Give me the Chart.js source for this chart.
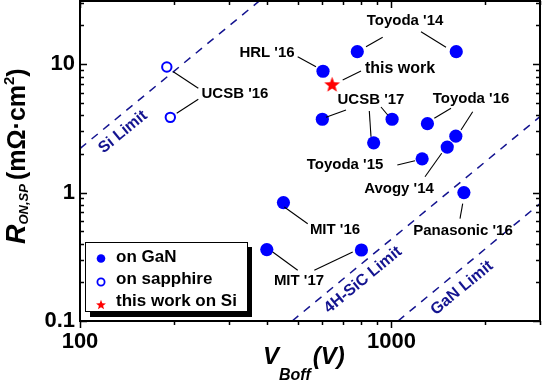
<!DOCTYPE html>
<html>
<head>
<meta charset="utf-8">
<script src="https://cdn.jsdelivr.net/npm/chart.js@4/dist/chart.umd.min.js"></script>
<style>
html,body{margin:0;padding:0;background:#fff;}
#wrap{width:542px;height:385px;}
</style>
</head>
<body>
<div id="wrap"><canvas id="c" width="542" height="385"></canvas></div>
<script>
// ---- data ----
const ganV   = [603, 777, 1615, 600, 1005, 877, 1305, 1610, 1511, 1255, 1709, 450, 398, 801];
const ganR   = [8.8, 12.5, 12.5, 3.72, 3.72, 2.44, 3.44, 2.75, 2.26, 1.83, 1.0, 0.835, 0.36, 0.357];
const sappV  = [190, 195];
const sappR  = [9.5, 3.85];
const thisV  = [645];
const thisR  = [6.94];
const siLimV  = [100, 380];
const siLimR  = [2.2, 31.6];
const sicLimV = [480, 3000];
const sicLimR = [0.1, 3.9];
const ganLimV = [1050, 3000];
const ganLimR = [0.1, 0.82];
const xTicks = [100,200,300,400,500,600,700,800,900,1000,2000,3000];
const xMajor = [100, 1000];
const yTicks = [0.1,0.2,0.3,0.4,0.5,0.6,0.7,0.8,0.9,1,2,3,4,5,6,7,8,9,10,20,30];
const yMajor = [0.1, 1, 10];
const legendLabels = ['on GaN', 'on sapphire', 'this work on Si'];
const limitLabels = ['Si Limit', '4H-SiC Limit', 'GaN Limit'];

const toXY = (xs, ys) => xs.map((v,i)=>({x:v, y:ys[i]}));
const BLUE = '#0000ff';
const NAVY = '#141490';

function starCanvas(r, ri){
  const c = document.createElement('canvas');
  const s = Math.ceil(r*2+2);
  c.width = s; c.height = s;
  const g = c.getContext('2d');
  drawStar(g, s/2, s/2+0.6, r, ri, '#ff0000');
  return c;
}
function drawStar(g, cx, cy, r, ri, col){
  g.beginPath();
  for(let i=0;i<10;i++){
    const a = -Math.PI/2 + i*Math.PI/5;
    const rr = i%2===0 ? r : ri;
    const px = cx + rr*Math.cos(a), py = cy + rr*Math.sin(a);
    if(i===0) g.moveTo(px,py); else g.lineTo(px,py);
  }
  g.closePath();
  g.fillStyle = col; g.fill();
}

const annotations = [
  {t:"Toyoda '14", x:405, y:21},
  {t:"HRL '16", x:267, y:53},
  {t:"this work", x:400, y:69, s:16},
  {t:"UCSB '16", x:235, y:94},
  {t:"UCSB '17", x:371, y:100},
  {t:"Toyoda '16", x:471, y:99},
  {t:"Toyoda '15", x:345, y:165},
  {t:"Avogy '14", x:399, y:189},
  {t:"Panasonic '16", x:463, y:231},
  {t:"MIT '16", x:335, y:230},
  {t:"MIT '17", x:299, y:281}
];
const leaders = [
  [366,46.7,382.7,37.3],[421,31.7,446,47.3],
  [297.7,56.7,316,66.7],
  [342.7,80,361,71],
  [173.3,71.7,198.3,88.3],[176.7,113.3,198.3,99.3],
  [326,117.3,346,110],[381,107,387.7,115],[369.3,111,371,136.7],
  [434.3,118.3,451,108.3],[461,130,472.7,111.7],
  [397.3,165,415,160.7],
  [425,176.7,441.7,153.3],
  [460,218.7,462.7,203.7],
  [284.3,207,307.7,223.7],
  [272.7,252,297.7,270.3],[314.3,270.3,352.7,252]
];
const limitTextPos = [[123,132],[363,280],[462,288]];

const decor = {
  id:'decor',
  afterDraw(chart){
    const g = chart.ctx, a = chart.chartArea;
    const xs = chart.scales.x, ys = chart.scales.y;
    g.save();
    // ticks
    g.strokeStyle = '#000'; g.lineWidth = 1.5;
    xTicks.forEach(v=>{
      const p = Math.round(xs.getPixelForValue(v))+0.5;
      const L = xMajor.includes(v) ? 7 : 4;
      g.beginPath();
      g.moveTo(p, a.bottom); g.lineTo(p, a.bottom+L);
      g.moveTo(p, a.top); g.lineTo(p, a.top+L);
      g.stroke();
    });
    yTicks.forEach(v=>{
      const p = Math.round(ys.getPixelForValue(v))+0.5;
      const L = yMajor.includes(v) ? 7 : 4;
      g.beginPath();
      g.moveTo(a.left, p); g.lineTo(a.left+L, p);
      g.moveTo(a.right, p); g.lineTo(a.right-L, p);
      g.stroke();
    });
    // frame
    g.lineWidth = 2;
    g.strokeRect(a.left, a.top, a.right-a.left, a.bottom-a.top);
    // leaders
    g.lineWidth = 1.1; g.strokeStyle = '#000';
    leaders.forEach(l=>{ g.beginPath(); g.moveTo(l[0],l[1]); g.lineTo(l[2],l[3]); g.stroke(); });
    // annotation labels
    g.fillStyle = '#000'; g.textAlign = 'center'; g.textBaseline = 'middle';
    annotations.forEach(o=>{
      g.font = 'bold '+(o.s||15)+'px "Liberation Sans", Arial, sans-serif';
      g.fillText(o.t, o.x, o.y);
    });
    // limit labels
    const ang = Math.atan2(ys.getPixelForValue(1)-ys.getPixelForValue(4), xs.getPixelForValue(200)-xs.getPixelForValue(100));
    g.fillStyle = NAVY; g.font = 'bold 16px "Liberation Sans", Arial, sans-serif';
    limitLabels.forEach((t,i)=>{
      g.save(); g.translate(limitTextPos[i][0], limitTextPos[i][1]); g.rotate(-ang);
      g.fillText(t, 0, 0); g.restore();
    });
    // legend
    const bx=85, by=242, bw=162, bh=69;
    g.fillStyle = '#000'; g.fillRect(bx+5, by+5, bw, bh+1);
    g.fillStyle = '#fff'; g.fillRect(bx, by, bw, bh);
    g.strokeStyle = '#000'; g.lineWidth = 1; g.strokeRect(bx+0.5, by+0.5, bw, bh);
    const rows = [257, 279.5, 301.5];
    g.beginPath(); g.arc(101, rows[0]+1.5, 4.3, 0, Math.PI*2); g.fillStyle = BLUE; g.fill();
    g.beginPath(); g.arc(101, rows[1]+2.5, 3.6, 0, Math.PI*2); g.lineWidth = 1.8; g.strokeStyle = BLUE; g.stroke();
    drawStar(g, 101, rows[2]+3.5, 5.2, 2.2, '#ff0000');
    g.fillStyle = '#000'; g.textAlign = 'left'; g.font = 'bold 17px "Liberation Sans", Arial, sans-serif';
    legendLabels.forEach((t,i)=> g.fillText(t, 116, rows[i]));
    // x title
    g.textBaseline = 'alphabetic';
    let x = 263;
    g.font = 'italic bold 24px "Liberation Sans", Arial, sans-serif';
    g.fillText('V', x, 364); x += g.measureText('V').width;
    g.font = 'italic bold 16px "Liberation Sans", Arial, sans-serif';
    g.fillText('Boff', x, 380); x += g.measureText('Boff').width + 2;
    g.font = 'italic bold 24px "Liberation Sans", Arial, sans-serif';
    g.fillText('(V)', x, 364);
    // y title
    g.save(); g.translate(25, 244); g.rotate(-Math.PI/2);
    let y = 0;
    g.font = 'italic bold 27px "Liberation Sans", Arial, sans-serif';
    g.fillText('R', y, 0); y += g.measureText('R').width;
    g.font = 'italic bold 13px "Liberation Sans", Arial, sans-serif';
    g.fillText('ON,SP', y, 3); y += g.measureText('ON,SP').width + 4;
    g.font = 'bold 25px "Liberation Sans", Arial, sans-serif';
    g.fillText('(mΩ·cm', y, 0); y += g.measureText('(mΩ·cm').width;
    g.font = 'bold 15px "Liberation Sans", Arial, sans-serif';
    g.fillText('2', y, -11); y += g.measureText('2').width;
    g.font = 'bold 25px "Liberation Sans", Arial, sans-serif';
    g.fillText(')', y, 0);
    g.restore();
    g.restore();
  }
};

const lineDs = (xs, ys) => ({
  data: toXY(xs, ys), showLine: true, pointRadius: 0, borderColor: NAVY,
  borderWidth: 1.5, borderDash: [8, 7], fill: false
});

new Chart(document.getElementById('c'), {
  type: 'scatter',
  data: {
    datasets: [
      lineDs(siLimV, siLimR),
      lineDs(sicLimV, sicLimR),
      lineDs(ganLimV, ganLimR),
      {label: legendLabels[0], data: toXY(ganV, ganR), pointRadius: 6.6, pointBackgroundColor: BLUE, pointBorderWidth: 0, borderColor: BLUE},
      {label: legendLabels[1], data: toXY(sappV, sappR), pointRadius: 4.7, pointBackgroundColor: '#fff', pointBorderColor: BLUE, pointBorderWidth: 2},
      {label: legendLabels[2], data: toXY(thisV, thisR), pointStyle: starCanvas(8.3, 3.5)}
    ]
  },
  options: {
    responsive: false, animation: false, devicePixelRatio: 1,
    layout: {autoPadding: false, padding: {top: 1, right: 2, left: 0, bottom: 0}},
    plugins: {legend: {display: false}, tooltip: {enabled: false}},
    scales: {
      x: {
        type: 'logarithmic', min: 100, max: 3000,
        grid: {display: false, drawTicks: false}, border: {display: false},
        afterBuildTicks: s => { s.ticks = xTicks.map(v => ({value: v})); },
        afterFit: s => { s.height = 64; s.paddingLeft = 0; s.paddingRight = 0; },
        ticks: {autoSkip: false, maxRotation: 0, padding: 8, color: '#000',
          font: {family: '"Liberation Sans", Arial, sans-serif', size: 22, weight: 'bold'},
          callback: v => xMajor.includes(v) ? String(v) : ''}
      },
      y: {
        type: 'logarithmic', min: 0.1, max: 31,
        grid: {display: false, drawTicks: false}, border: {display: false},
        afterBuildTicks: s => { s.ticks = yTicks.map(v => ({value: v})); },
        afterFit: s => { s.width = 80; s.paddingTop = 0; s.paddingBottom = 0; },
        ticks: {autoSkip: false, padding: 5, color: '#000',
          font: {family: '"Liberation Sans", Arial, sans-serif', size: 22, weight: 'bold'},
          callback: v => yMajor.includes(v) ? String(v) : ''}
      }
    }
  },
  plugins: [decor]
});
</script>
</body>
</html>
